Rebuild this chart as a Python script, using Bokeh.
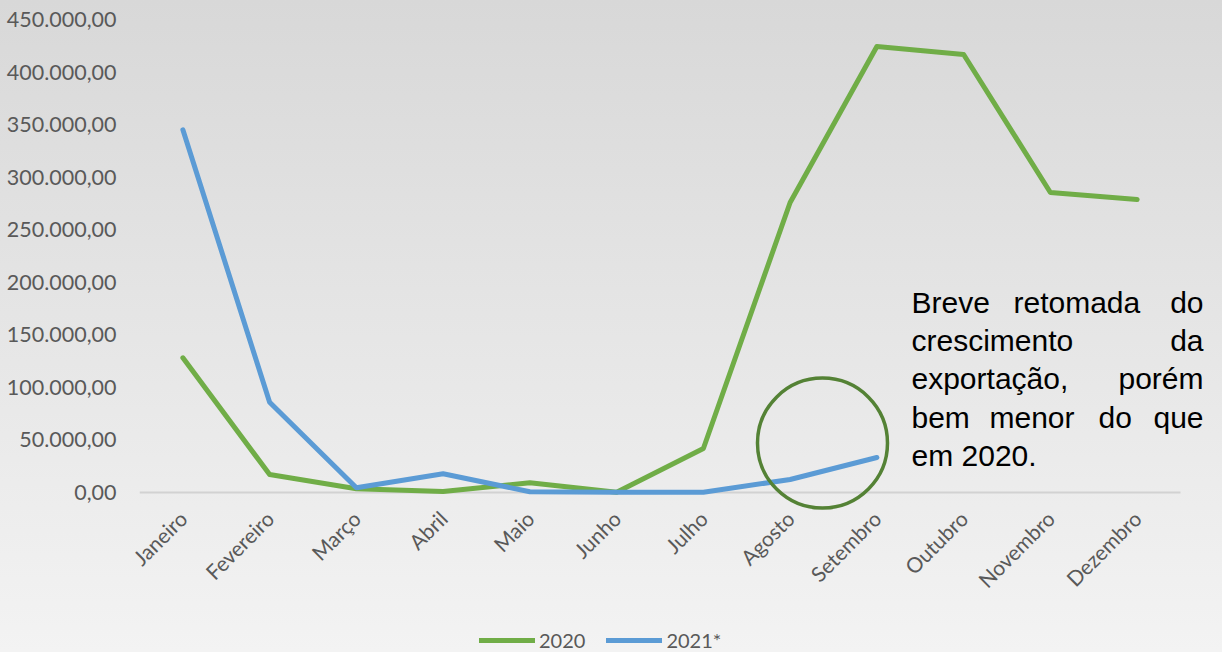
from math import pi
from bokeh.plotting import figure
from bokeh.models import Range1d, FixedTicker, Label, Legend, LegendItem
from bokeh.embed import file_html
from bokeh.resources import INLINE

months = ["Janeiro", "Fevereiro", "Março", "Abril", "Maio", "Junho", "Julho",
          "Agosto", "Setembro", "Outubro", "Novembro", "Dezembro"]
v2020 = [128100, 17100, 3500, 1000, 9200, 300, 41900, 275900, 424300, 416700, 285400, 278800]
v2021 = [345100, 85900, 4500, 17800, 700, 200, 200, 12400, 33300]
y_ticks = [0, 50000, 100000, 150000, 200000, 250000, 300000, 350000, 400000, 450000]
y_tick_labels = ["0,00", "50.000,00", "100.000,00", "150.000,00", "200.000,00",
                 "250.000,00", "300.000,00", "350.000,00", "400.000,00", "450.000,00"]
note_words = ["Breve", "retomada", "do", "crescimento", "da", "exportação,", "porém",
              "bem", "menor", "do", "que", "em 2020."]
note_x = [911, 1013, 1203, 911, 1203, 911, 1203, 911, 989, 1098, 1203, 911]
note_y = [312, 312, 312, 350, 350, 388, 388, 427, 427, 427, 427, 465]
note_align = ["left", "left", "right", "left", "right", "left", "right",
              "left", "left", "left", "right", "left"]

GRAY = "#595959"
FONT = "Lato"
idx = list(range(len(months)))

p = figure(width=1222, height=652, x_range=Range1d(-0.5, 11.984),
           y_range=Range1d(-152200, 450000), output_backend="svg",
           toolbar_location=None, min_border_left=139, min_border_right=0,
           min_border_top=19, min_border_bottom=0)
p.styles = {"background-image": "linear-gradient(to bottom, #d8d8d8, #f3f3f3)"}
p.border_fill_alpha = 0
p.background_fill_alpha = 0
p.outline_line_color = None
p.xgrid.visible = False
p.ygrid.visible = False

p.yaxis.ticker = FixedTicker(ticks=y_ticks)
p.yaxis.major_label_overrides = dict(zip(y_ticks, y_tick_labels))
p.yaxis.axis_line_color = None
p.yaxis.major_tick_line_color = None
p.yaxis.minor_tick_line_color = None
p.yaxis.major_tick_out = 0
p.yaxis.major_label_standoff = 23
p.yaxis.major_label_text_font = FONT
p.yaxis.major_label_text_font_size = "21.5px"
p.yaxis.major_label_text_color = GRAY

# month labels sit just under the zero line (the frame extends further down
# to hold the legend)
p.xaxis.ticker = FixedTicker(ticks=idx)
p.xaxis.major_label_overrides = dict(zip(idx, months))
p.xaxis.axis_line_color = None
p.xaxis.major_tick_line_color = None
p.xaxis.minor_tick_line_color = None
p.xaxis.major_tick_out = 0
p.xaxis.major_label_orientation = pi / 4
p.xaxis.major_label_standoff = -138
p.xaxis.major_label_text_font = FONT
p.xaxis.major_label_text_font_size = "21px"
p.xaxis.major_label_text_color = GRAY

# zero baseline across the category area
p.segment(x0=[-0.5], y0=[0], x1=[len(months) - 0.5], y1=[0],
          line_color="#d2d2d2", line_width=2)

r20 = p.line(idx, v2020, line_color="#70ad47", line_width=5, line_cap="round",
             line_join="round")
r21 = p.line(idx[:len(v2021)], v2021, line_color="#5b9bd5", line_width=5,
             line_cap="round", line_join="round")

# highlight circle around the 2021 recovery
p.scatter(x=[7.373], y=[47000], size=130, marker="circle", fill_color=None,
          line_color="#548235", line_width=3.5)

for w, x, y, a in zip(note_words, note_x, note_y, note_align):
    p.add_layout(Label(x=x - 139, y=662 - y, x_units="screen", y_units="screen",
                       text=w, text_align=a, text_baseline="alphabetic",
                       text_font="Liberation Sans", text_font_size="30px",
                       text_color="black"))

lg = Legend(items=[LegendItem(label="2020", renderers=[r20]),
                   LegendItem(label="2021*", renderers=[r21])],
            location=(340, 0), orientation="horizontal",
            background_fill_alpha=0, border_line_color=None, padding=0, margin=0,
            glyph_width=56, glyph_height=20, label_standoff=4, spacing=21,
            label_text_font=FONT, label_text_font_size="20px",
            label_text_color=GRAY)
p.add_layout(lg, "center")

open("out.html", "w").write(file_html(p, INLINE))
